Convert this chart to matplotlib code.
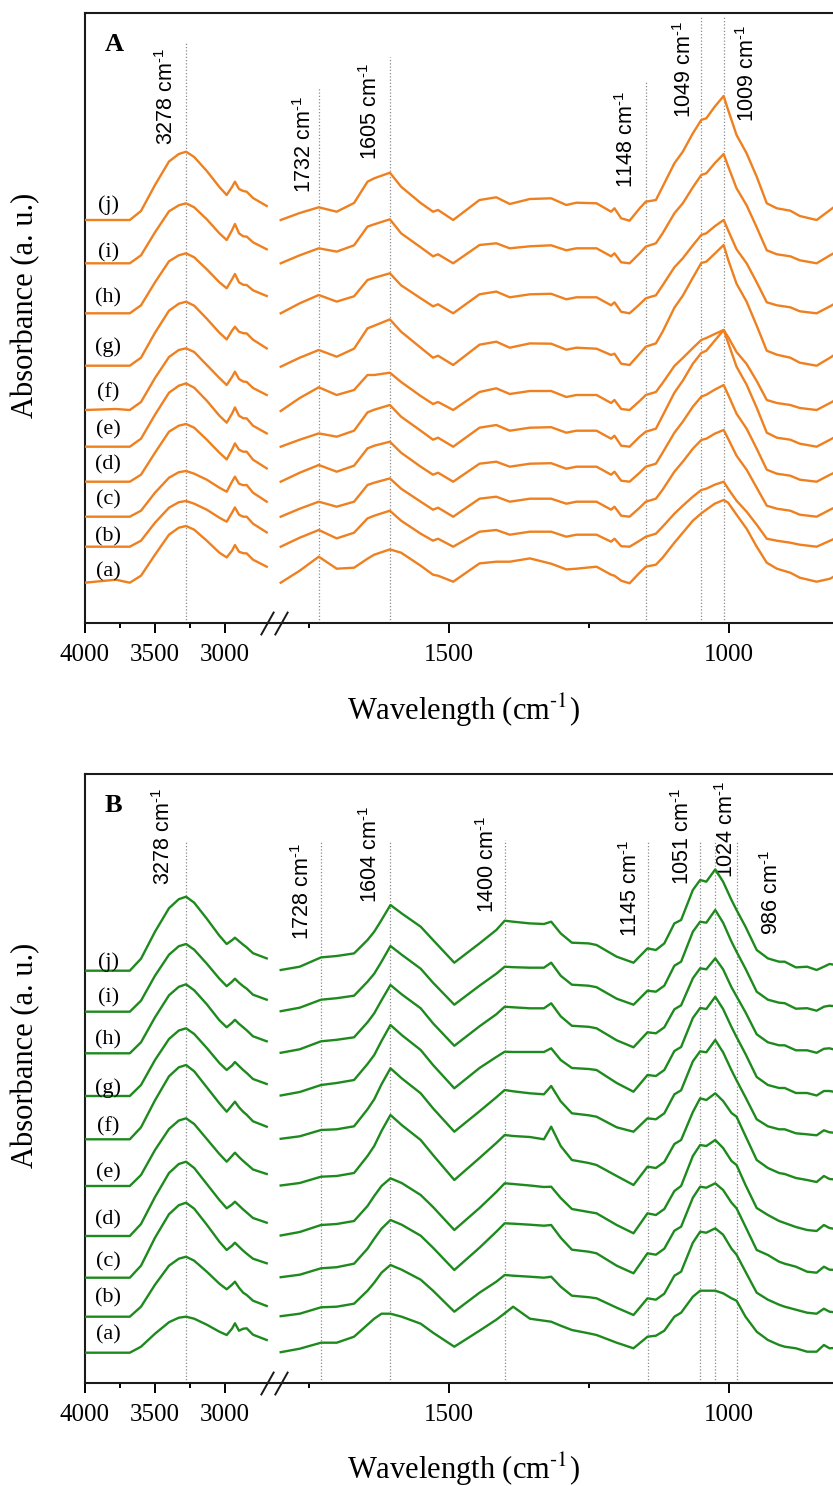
import numpy as np
import matplotlib
matplotlib.use("Agg")
import matplotlib.pyplot as plt
from matplotlib.scale import FuncScale

plt.rcParams["font.family"] = ["Liberation Serif", "DejaVu Serif"]
plt.rcParams["mathtext.fontset"] = "custom"
plt.rcParams["mathtext.rm"] = "Liberation Sans"
plt.rcParams["mathtext.it"] = "Liberation Sans:italic"
plt.rcParams["mathtext.bf"] = "Liberation Sans:bold"

SAMPLES = ["a", "b", "c", "d", "e", "f", "g", "h", "i", "j"]

# ---- wavenumber grids (cm-1) --------------------------------------------
LEFT_WN = [4000, 3780, 3680, 3600, 3500, 3400, 3330, 3278, 3220, 3130, 3040,
           2988, 2950, 2929, 2900, 2870, 2845, 2800, 2702]

RIGHT_WN_A = [1800, 1766, 1732, 1700, 1669, 1645, 1633, 1605, 1585, 1550,
              1528, 1519, 1492, 1445, 1415, 1391, 1355, 1317, 1290, 1272,
              1236, 1210, 1204, 1192, 1177, 1159, 1148, 1130, 1118, 1097,
              1082, 1064, 1049, 1040, 1025, 1009, 1001, 986, 968, 950,
              932, 914, 890, 873, 843, 819, 800]

RIGHT_WN_B = [1800, 1766, 1728, 1700, 1669, 1645, 1633, 1620, 1604, 1584,
              1550, 1528, 1490, 1445, 1415, 1400, 1385, 1355, 1330, 1317,
              1300, 1280, 1250, 1236, 1200, 1170, 1145, 1130, 1115, 1097,
              1085, 1064, 1051, 1040, 1024, 1010, 995, 986, 970, 950,
              930, 910, 900, 880, 860, 843, 830, 820, 800]

# ---- panel A absorbance (a. u., above each baseline) ----------------------
A_LEFT = {
    "a": [0, 3, 0, 7, 28, 48, 55, 56.7, 53, 42, 30, 25.3, 32, 37.7, 31, 29.5, 29.3, 23, 16],
    "b": [0, 0, 0, 6, 24, 39, 44.5, 45.7, 43, 37, 29, 25, 34, 39.3, 32, 30, 30, 23, 14.3],
    "c": [0, 0, 0, 6, 24, 39, 44.5, 45.7, 43, 37, 29, 25, 35, 40, 33, 31.5, 31.7, 24, 15],
    "d": [0, 0, 0, 7, 29, 50, 56, 57.7, 54, 42, 29, 22.3, 32, 38.3, 32, 30, 30, 22, 13.3],
    "e": [0, 0, 0, 8, 32, 54, 61, 63.3, 59, 46, 31, 24, 33, 39.3, 31, 28.5, 28.3, 21, 13.3],
    "f": [0, 1, 0, 8, 32, 53, 60, 61.7, 58, 45, 32, 25, 33, 38.3, 31, 28.5, 28, 22, 15],
    "g": [0, 0, 0, 8, 33, 55, 62, 64, 60, 47, 33, 26.3, 35, 39, 34, 32.5, 32.3, 26, 17.3],
    "h": [0, 0, 0, 8, 31, 52, 58, 60, 56, 44, 31, 25, 34, 39.3, 31, 28.5, 28.3, 23, 17.3],
    "i": [0, 0, 0, 8, 31, 52, 58, 60, 56, 44, 30, 23.3, 33, 39.3, 30, 27, 26.7, 21, 14],
    "j": [0, 0, 0, 9, 35, 58.5, 66, 68.3, 63, 49, 33, 25, 33, 38.3, 31, 29, 28.3, 22, 14],
}
A_RIGHT = {
    "a": [0, 12, 26, 14, 15, 24, 28, 33.3, 30, 17, 8, 7, 1, 19.3, 21, 21, 24.3, 19, 13.3, 14,
          16, 8, 7, 2, -0.6, 10, 16, 18, 25, 40, 50, 62, 69.3, 73, 79, 82.7, 80, 68, 54, 36,
          20, 14, 10, 5, 1, 4, 10],
    "b": [0, 9, 16.7, 8.3, 14, 28.3, 31, 36, 26, 13, 6, 8, 0, 15, 16.7, 12, 15, 15, 10, 12,
          12, 5, 8, 0.5, 0, 6, 10, 13, 20, 33, 41, 50, 56.7, 58, 62, 65, 58, 46, 35, 22,
          8, 6, 4, 2, 0, 6, 11],
    "c": [0, 8, 15, 10, 15, 31.7, 34, 38.3, 28, 15, 7, 9, 0, 18, 20, 15, 18, 18, 13, 15,
          15, 7, 10, 1, 0, 9, 15, 18, 27, 45, 55, 68, 76.7, 78, 83, 86.7, 78, 61, 47, 29,
          11, 8, 6, 2, 0, 7, 12],
    "d": [0, 9, 16.7, 10, 16, 33.3, 36, 40, 29, 15, 7, 9, 0, 18, 20, 15, 18, 18.5, 13, 15,
          15, 7, 10, 1, 0, 9, 15, 18, 29, 49, 60, 75, 85, 87, 92, 96.7, 87, 68, 53, 33,
          12, 8, 6, 2, 0, 7, 12],
    "e": [0, 7, 13.3, 10, 16, 34.3, 37, 41.7, 30, 16, 7, 9, 0, 19, 21.7, 16, 19, 19.5, 14, 16,
          16, 8, 11, 1, 0, 10, 15, 18, 31, 54, 66, 83, 93.7, 96, 106, 116.7, 104, 80, 62, 39,
          14, 9, 7, 3, 0, 7, 13],
    "f": [-1, 12, 22.7, 15, 20, 35, 35, 37.3, 28, 14, 6, 8, 0, 18, 21.7, 16, 19, 19, 13, 15,
          15, 7, 10, 1, 0, 9, 15, 18, 27, 44, 52, 62, 70, 72, 76, 80, 73, 58, 46, 29,
          10, 7, 5, 2, 0, 7, 13],
    "g": [-1, 8, 15.7, 9, 17, 37.3, 40, 46.3, 34, 18, 8, 10, 0.7, 21, 24, 18, 22.3, 22, 16, 18,
          17, 10.7, 12, 2, 0.7, 12, 19, 22.3, 34, 58, 70, 88, 102.7, 104, 112, 120.7, 106, 82, 64, 40,
          15, 11, 8, 3, 0, 8, 15],
    "h": [0, 10, 18.3, 11.7, 17, 33.3, 35.5, 40, 28, 15, 7, 9, 0, 19, 21.7, 16, 19, 19.5, 14, 16,
          16, 8, 11, 1.5, 0, 9, 15, 18, 28, 46, 55, 68, 78.3, 80, 87, 93.3, 83, 64, 50, 31,
          11, 8, 6, 2, 0, 7, 13],
    "i": [0, 8, 15, 11.7, 18, 36.7, 39, 44, 30, 16, 7, 9, 0, 18.3, 20, 15, 17, 18, 13, 15,
          15, 7, 10, 1, 0, 10, 16.7, 20, 30, 50, 60, 76, 88.3, 90, 100, 109.3, 97, 75, 58, 36,
          13, 9, 7, 3, 0, 8, 14],
    "j": [0, 7, 12.7, 8.3, 17, 38.3, 41.7, 47.3, 33.3, 17, 8.3, 10, 0, 20, 22.7, 16, 21, 21.7, 15, 17.3,
          16.7, 8.3, 11.7, 1.7, -0.7, 11.7, 18.3, 20, 33.3, 56.7, 68.3, 86.7, 100, 101.7, 113.3, 124, 110, 85, 66.7, 43.3,
          16.7, 11.7, 9.3, 4, 0, 10, 18],
}

# ---- panel B absorbance -------------------------------------------------
B_LEFT = {
    "a": [0, 0, 0, 6, 19, 30.5, 35, 36, 34, 28, 21, 17.7, 24, 29.4, 22, 24, 24.4, 18, 12.7],
    "b": [0, 0, 0, 10, 32, 51, 58, 60, 56, 45, 33, 27.4, 32, 35, 29, 24, 21.7, 16, 10.7],
    "c": [0, 0, 0, 12, 40, 63.5, 72.5, 75, 69, 53, 36, 27.7, 32, 35, 31, 27, 24, 19, 14.4],
    "d": [0, 0, 0, 12, 39, 63, 72, 74.3, 68, 52, 36, 27.7, 31.5, 34.3, 30.5, 26.5, 23.5, 18, 13.3],
    "e": [0, 0, 0, 11, 36, 57, 65.5, 67.7, 62, 47, 32, 24.3, 30, 33.3, 29, 25, 22, 16.5, 12],
    "f": [0, 0, 0, 12, 39, 63, 72, 74.3, 68, 52, 36, 27.6, 34, 37.6, 32, 27.5, 24.5, 18, 12.6],
    "g": [0, 0, 0, 11, 36, 57, 65.5, 67.7, 62, 48, 33, 26, 30.5, 34, 30, 26, 23, 17, 12],
    "h": [0, 0, 0, 11, 36, 58, 66.5, 69, 63, 49, 33, 26, 30.5, 33.5, 29.5, 26, 23, 17, 12],
    "i": [0, 0, 0, 11, 36, 57, 65.5, 67.7, 62, 48, 33, 25.5, 30, 33, 29, 25.5, 23, 17, 12],
    "j": [0, 0, 0, 12, 39, 62.5, 71.5, 74, 68, 52, 35, 26.7, 30.5, 33, 29.5, 26, 23.3, 17.5, 12.3],
}
B_RIGHT = {
    "a": [0.5, 4, 10, 10, 16, 28, 34, 39, 39, 36, 29, 20, 6, 22, 33, 39.4, 46, 34, 32, 31,
          27, 22.7, 19.4, 17.7, 10, 4.4, 16, 17, 22, 36, 40, 56, 62, 62, 62, 59.4, 54.4, 52, 36, 21,
          12.7, 7.7, 6, 4.4, 1, 1, 7.7, 4.4, 5],
    "b": [0.5, 3, 9.4, 10, 13, 26, 34, 44, 51.7, 47, 37, 26, 5, 24, 35, 41.7, 41, 40, 39, 40,
          30, 21, 19.5, 18.4, 9, 1.7, 18.4, 17, 23, 41, 45, 74, 85, 84, 88.4, 82, 68, 62, 45, 24,
          17, 12, 10, 7, 4, 3, 8, 5, 3.7],
    "c": [0.5, 3, 9.4, 10.5, 14, 29, 39, 49, 57.7, 53, 42, 30, 7.7, 30, 46, 54.4, 54, 53, 52, 52.7,
          40, 28, 26, 24.4, 12, 4.4, 24.4, 23, 29, 47, 51, 80, 91, 90, 94.4, 87.7, 75, 69.4, 51, 27.7,
          22.7, 16, 14, 11, 6, 5, 11, 8, 7.7],
    "d": [0.5, 4, 11, 12, 15, 30, 40, 50, 57.7, 53, 41, 29, 6, 28, 44, 52.7, 52, 50.5, 49, 49.3,
          38, 27, 24, 22.7, 11, 2.7, 22.7, 21, 27, 45, 50, 80, 91, 90, 96, 88, 75, 71, 51, 28,
          21, 15, 13, 9, 6, 5, 11, 8, 6],
    "e": [0.5, 3, 9.3, 10, 13, 30, 40, 55, 71, 61, 46, 31, 6, 28, 43, 51, 50, 49, 46.7, 59.3,
          40, 26, 23, 21, 10, 1, 19.3, 18, 24, 42, 46, 74, 87.7, 86, 92.7, 85, 73, 69.3, 50, 26,
          18, 13, 12, 8, 6, 4, 10, 7, 6],
    "f": [0.5, 3, 9.3, 10, 13, 30, 40, 55, 71, 61, 46, 31, 7.6, 28, 42, 49.3, 48, 46, 45, 53.3,
          38, 26, 24, 22.6, 12, 7.6, 21, 20, 26, 45, 49, 78, 88, 87, 99.3, 87, 69, 59, 42, 20,
          13, 10, 10, 6, 5, 4, 9, 7, 6],
    "g": [0.5, 4, 11, 13, 16, 32, 41, 55, 71, 61, 46, 31, 7.7, 28, 39, 44.3, 44, 44, 44, 47.7,
          36, 28, 27, 26, 13, 4.3, 21, 20, 26, 45, 49, 78, 88, 87, 99.3, 87, 69, 59, 42, 19,
          11, 8, 8, 3, 3, 0.5, 5, 5, 3],
    "h": [0.5, 4, 12, 13.5, 16, 31, 40, 53, 68.3, 59, 45, 30, 7.5, 27, 39, 46.6, 46, 45, 45, 50,
          37, 27.5, 26.5, 25, 13, 6, 21, 20, 26, 44, 48, 75, 85, 84, 95, 84, 66, 57, 41, 19,
          11, 8, 8, 3, 3, 0.5, 4.5, 5, 2],
    "i": [0.5, 4, 12, 13.5, 16, 30, 38, 50, 65.7, 57, 43, 29, 7, 26, 38, 45, 44.5, 44, 44, 49,
          36, 27, 26, 24.5, 13, 7, 21, 20, 26, 46, 50, 80, 90, 89, 101.7, 89, 70, 60, 43, 20,
          12, 9, 8.5, 3, 3.5, 1, 5, 6, 5],
    "j": [0.7, 4, 13.3, 14.7, 17.3, 30.7, 39, 50.7, 65.7, 57.3, 44, 30.7, 8, 27.3, 40.7, 50, 49, 47.3, 46.7, 49,
          37.3, 28, 27.3, 25.7, 14, 8, 22.3, 20.7, 27.3, 47.3, 50.7, 80.7, 90.7, 89, 101.3, 89, 70.7, 60.7, 44, 20.7,
          12.3, 9, 9, 3.3, 4, 0.7, 4, 6.7, 5],
}

# stacking offsets and label heights (same arbitrary units)
A_OFFSET = [40.6, 76.6, 106.6, 141.6, 176.6, 213.3, 257.6, 310, 360, 403.3]
A_LABEL_Y = [51.6, 86.6, 123.3, 158.3, 193.3, 230.3, 276.6, 325.3, 370.3, 418.3]
B_OFFSET = [30.6, 66.6, 105.6, 147.3, 197.3, 244, 287.3, 330, 371.6, 412.6]
B_LABEL_Y = [48.3, 85, 121.6, 163.3, 210, 256.6, 295.3, 343.3, 385, 421.6]

# marked bands: wavenumber, top of dotted line, bottom of text, text shift (pt)
A_BANDS = [(3278, 581.6, 478.3, -14), (1732, 535.6, 430.3, -10), (1605, 566.6, 463.3, -14),
           (1148, 541.6, 435.3, -14), (1049, 607.3, 505.3, -12), (1009, 607.3, 501.6, 17)]
B_BANDS = [(3278, 541.3, 498.3, -16), (1728, 541.3, 443.3, -13), (1604, 541.3, 480.3, -14),
           (1400, 543.3, 470.3, -12), (1145, 541.3, 446.3, -12), (1051, 541.3, 498.3, -13),
           (1024, 543.3, 505.3, 8), (986, 541.3, 448.3, 25)]

# broken axis: 4000-2700 compressed, 1800-800 expanded, short gap between
BRK_W = [-5000, 1800, 2700, 10000]
BRK_P = [-4088.7, -280.7, -267.0, 755.0]

HYPHEN = "\u2010"


def fwd(w):
    return np.interp(w, BRK_W, BRK_P)


def inv(p):
    return np.interp(p, BRK_P, BRK_W)


fig = plt.figure(figsize=(8.33, 14.86), dpi=100)
W, H = 833.0, 1486.0


def draw_panel(top_px, bot_px, left, right, rwn, offsets, label_y, bands,
               color, letter, ylabel_y, xlabel_y):
    ax = fig.add_axes([85 / W, 1 - bot_px / H, 755.7 / W, (bot_px - top_px) / H])
    ax.set_xscale(FuncScale(ax, (fwd, inv)))
    ax.set_xlim(4000, 800)
    ax.set_ylim(0, bot_px - top_px)

    for wn, ytop, ytxt, dx in bands:
        ax.plot([wn, wn], [0, ytop], ls=(0, (1, 1.6)), color="#8c8c8c", lw=0.9, zorder=1)
        ax.annotate(f"{wn} cm$^{{{HYPHEN}1}}$", xy=(wn, ytxt), xytext=(dx, 0),
                    textcoords="offset points", rotation=90, ha="center", va="bottom",
                    fontsize=15.5, family="Liberation Sans")

    for k, s in enumerate(SAMPLES):
        off = offsets[k]
        ax.plot(LEFT_WN, np.array(left[s]) + off, color=color, lw=1.7,
                solid_joinstyle="round", zorder=3)
        ax.plot(rwn, np.array(right[s]) + off, color=color, lw=1.7,
                solid_joinstyle="round", zorder=3)
        ax.text(3835, label_y[k], f"({s})", ha="center", va="center", fontsize=16)

    ax.set_yticks([])
    ax.set_xticks([4000, 3500, 3000, 1500, 1000],
                  labels=["4000", "3500", "3000", "1500", "1000"])
    ax.set_xticks([3750, 3250, 1750, 1250], minor=True)
    ax.tick_params(axis="x", which="major", direction="out", length=7.2, width=1.4,
                   labelsize=18, pad=8)
    ax.tick_params(axis="x", which="minor", direction="out", length=3.6, width=1.4)
    ax.spines["right"].set_visible(False)
    for sp in ("left", "top", "bottom"):
        ax.spines[sp].set_linewidth(1.5)
        ax.spines[sp].set_color("#1a1a1a")

    # axis break marks
    ax.plot([2700, 1800], [0, 0], transform=ax.get_xaxis_transform(), ls="none",
            marker=[(-0.28, -0.5), (0.28, 0.5)], markersize=17, mew=1.4,
            color="#1a1a1a", clip_on=False, zorder=5)

    fig.text(105 / W, 1 - (top_px + 20) / H, letter, fontsize=19, fontweight="bold",
             ha="left", va="top")
    fig.text(26 / W, 1 - ylabel_y / H, "Absorbance (a. u.)", rotation=90,
             ha="center", va="center", fontsize=22)
    fig.text(463 / W, 1 - xlabel_y / H, f"Wavelength (cm$^{{{HYPHEN}1}}$)", ha="center",
             va="center", fontsize=22, math_fontfamily="stix")
    return ax


draw_panel(13.0, 623.3, A_LEFT, A_RIGHT, RIGHT_WN_A, A_OFFSET, A_LABEL_Y, A_BANDS,
           "#EE8020", "A", 305, 710)
draw_panel(774.3, 1383.3, B_LEFT, B_RIGHT, RIGHT_WN_B, B_OFFSET, B_LABEL_Y, B_BANDS,
           "#1E8A1E", "B", 1055, 1469)

fig.savefig("out.png", dpi=100)
